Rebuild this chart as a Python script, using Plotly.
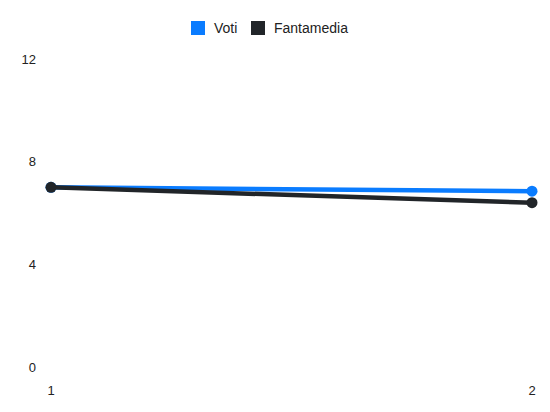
import plotly.graph_objects as go

# data
giornate = [1, 2]
voti = [7.0, 6.85]
fantamedia = [7.0, 6.4]
y_ticks = [0, 4, 8, 12]

BLUE = "#0a7cff"
DARK = "#212529"

# page has an 8px body margin, so plot box is placed in figure px accordingly
L, R, T, B = 43, 26, 51, 53
W, H = 550, 412
PW, PH = W - L - R, H - T - B


def px_x(sx):
    # screen x -> paper x
    return (sx - 8 - L) / PW


def px_y(sy):
    # screen y -> paper y
    return (H - B - (sy - 8)) / PH


fig = go.Figure()

for name, values, color in [("Voti", voti, BLUE), ("Fantamedia", fantamedia, DARK)]:
    fig.add_trace(go.Scatter(
        x=giornate, y=values, mode="lines+markers", name=name,
        line=dict(color=color, width=4.5),
        marker=dict(color=color, size=11),
        cliponaxis=False, showlegend=False,
    ))

# hand-drawn legend: square swatch + label
legend_items = [("Voti", BLUE, 191), ("Fantamedia", DARK, 251)]
for name, color, sx in legend_items:
    fig.add_shape(type="rect", xref="paper", yref="paper",
                  x0=px_x(sx), x1=px_x(sx + 14), y0=px_y(35), y1=px_y(21),
                  fillcolor=color, line=dict(width=0))
    fig.add_annotation(text=name, xref="paper", yref="paper",
                       x=px_x(sx + 21), y=px_y(28), xanchor="left", yanchor="middle",
                       showarrow=False, font=dict(size=14, color="#222"))

fig.update_layout(
    width=W, height=H,
    margin=dict(l=L, r=R, t=T, b=B),
    paper_bgcolor="white", plot_bgcolor="white",
    font=dict(family="Liberation Sans, Arial, sans-serif", size=13, color="#222"),
    showlegend=False,
)

fig.update_xaxes(
    range=[1, 2], tickvals=giornate, showgrid=False, zeroline=False,
    showline=False, ticklabelstandoff=14,
)
fig.update_yaxes(
    range=[0, 12], tickvals=y_ticks, showgrid=False, zeroline=False,
    showline=False, ticklabelstandoff=14,
)

fig.write_html("out.html")
